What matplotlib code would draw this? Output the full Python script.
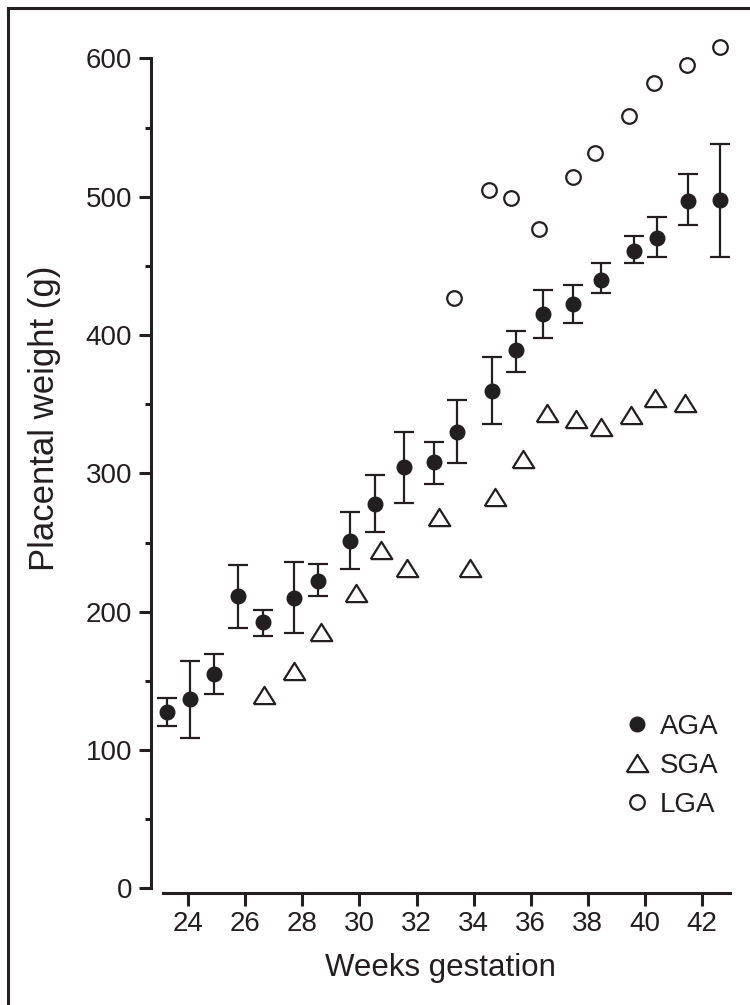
import numpy as np
import matplotlib
matplotlib.use("Agg")
import matplotlib.pyplot as plt
from matplotlib.lines import Line2D

plt.rcParams['font.family'] = ['Liberation Sans', 'DejaVu Sans']
ink = '#231f20'

# AGA: mean placental weight with error bars
aga_weeks = [23.26, 24.04, 24.91, 25.75, 26.63, 27.72, 28.54, 29.68, 30.56, 31.56,
             32.60, 33.42, 34.66, 35.49, 36.43, 37.50, 38.45, 39.64, 40.43, 41.50, 42.64]
aga_mean = [127.2, 136.6, 155.1, 211.3, 192.7, 209.6, 222.1, 251.3, 278.0, 304.3,
            308.2, 329.9, 359.7, 389.1, 415.2, 422.4, 439.7, 460.9, 470.3, 497.1, 497.6]
aga_hi = [137.4, 164.1, 169.4, 233.7, 201.2, 236.1, 234.2, 272.0, 298.6, 329.6,
          322.4, 353.0, 383.9, 402.9, 432.5, 436.1, 451.8, 471.6, 485.1, 516.4, 538.1]
aga_lo = [117.3, 108.9, 140.7, 188.0, 182.6, 184.3, 211.1, 231.0, 257.6, 278.3,
          292.5, 307.5, 335.5, 373.5, 397.6, 408.9, 430.1, 451.8, 456.2, 479.3, 456.2]

# SGA
sga_weeks = [26.66, 27.71, 28.64, 29.86, 30.76, 31.67, 32.77, 33.88, 34.75,
             35.72, 36.58, 37.59, 38.46, 39.52, 40.36, 41.41]
sga_w = [139.7, 157.1, 185.1, 213.7, 244.6, 231.8, 268.6, 231.6, 282.9,
         310.2, 343.6, 339.3, 333.5, 342.1, 354.4, 350.8]

# LGA
lga_weeks = [33.32, 34.55, 35.30, 36.31, 37.50, 38.24, 39.44, 40.33, 41.48, 42.64]
lga_w = [427.0, 504.8, 498.8, 476.4, 514.0, 531.8, 558.3, 582.4, 595.0, 608.4]

yticks = [0, 100, 200, 300, 400, 500, 600]
xticks = [24, 26, 28, 30, 32, 34, 36, 38, 40, 42]

fig = plt.figure(figsize=(7.5, 10.05), dpi=100)
ax = fig.add_axes([151/750, 0.1111, (730-151)/750, 0.8514])

aga = np.array(aga_mean)
yerr = [aga - np.array(aga_lo), np.array(aga_hi) - aga]
ax.errorbar(aga_weeks, aga_mean, yerr=yerr, fmt='o', color=ink, ms=10.5,
            elinewidth=1.6, capsize=7, capthick=1.6, zorder=3)

# flattened triangle, closed path
tri = [(-1, -0.8), (1, -0.8), (0, 0.8), (-1, -0.8)]
ax.plot(sga_weeks, sga_w, ls='none', marker=tri, ms=15.5, mfc='white', mec=ink, mew=1.6)
ax.plot(lga_weeks, lga_w, ls='none', marker='o', ms=10.5, mfc='white', mec=ink, mew=1.6)

ax.set_xlim(22.69, 42.99)
ax.set_ylim(-3.6, 615)

for s in ['top', 'right']:
    ax.spines[s].set_visible(False)
ax.spines['left'].set_bounds(0, 600)
ax.spines['bottom'].set_bounds(23.12, 42.99)
for s in ['left', 'bottom']:
    ax.spines[s].set_linewidth(2.2)
    ax.spines[s].set_color(ink)

ax.set_yticks(yticks)
ax.set_yticks([50, 150, 250, 350, 450, 550], minor=True)
ax.set_xticks(xticks)
ax.tick_params(axis='y', which='major', length=8.6, width=2.2, pad=5, labelsize=20, colors=ink)
ax.tick_params(axis='y', which='minor', length=4.3, width=2.2, colors=ink)
ax.tick_params(axis='x', which='major', length=9, width=2.2, pad=4, labelsize=20, colors=ink)

ax.set_xlabel('Weeks gestation', fontsize=22.5, color=ink)
ax.xaxis.set_label_coords(0.5, -0.07)
ax.set_ylabel('Placental weight (g)', fontsize=25, color=ink)
ax.yaxis.set_label_coords(-0.155, 0.555)

handles = [
    Line2D([], [], ls='none', marker='o', ms=10.5, color=ink),
    Line2D([], [], ls='none', marker=tri, ms=15.5, mfc='white', mec=ink, mew=1.6),
    Line2D([], [], ls='none', marker='o', ms=10.5, mfc='white', mec=ink, mew=1.6),
]
leg = ax.legend(handles, ['AGA', 'SGA', 'LGA'], loc='center left',
                bbox_to_anchor=(623/750, (1005-766)/1005), bbox_transform=fig.transFigure,
                frameon=False, fontsize=20, borderpad=0, borderaxespad=0,
                handlelength=1.0, handletextpad=0.33, labelspacing=0.47)
for t in leg.get_texts():
    t.set_color(ink)

# frame around the figure (left and top edges)
fig.add_artist(Line2D([8/750, 1], [1 - 8/1005, 1 - 8/1005], transform=fig.transFigure,
                      color=ink, lw=2.2))
fig.add_artist(Line2D([8/750, 8/750], [0, 1 - 8/1005], transform=fig.transFigure,
                      color=ink, lw=2.2))

fig.savefig('out.png', dpi=100)
